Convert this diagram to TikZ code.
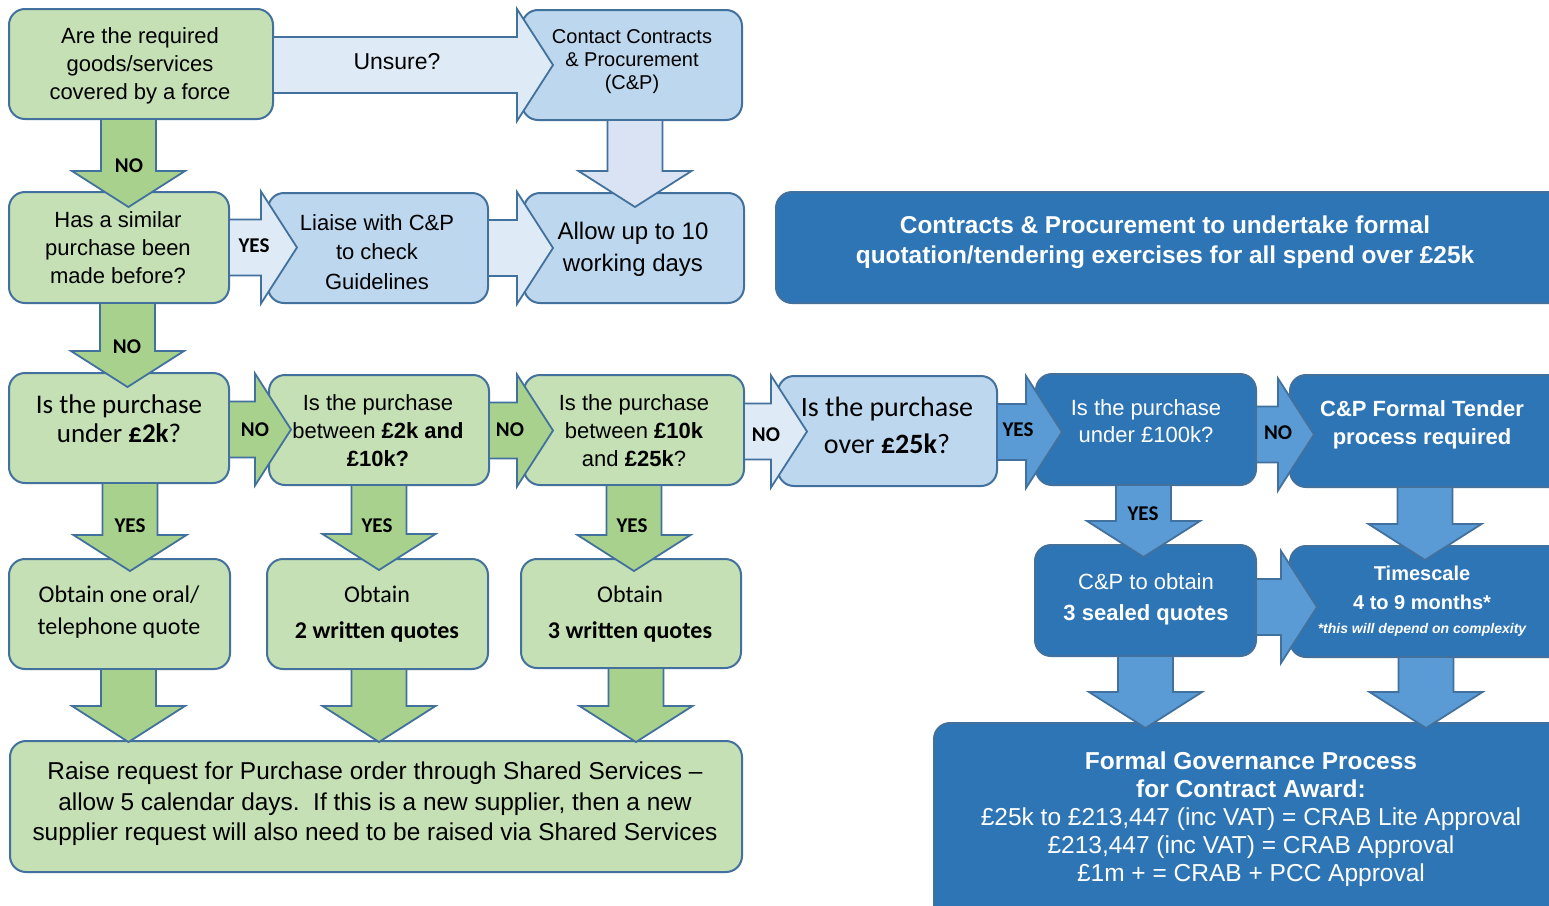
\documentclass[tikz,border=0pt]{standalone}
\usepackage{fontspec}
\setmainfont{Liberation Sans}
\newfontfamily\calfont{Carlito}
\usetikzlibrary{calc}

\definecolor{gfill}{HTML}{C5E0B4}
\definecolor{garrow}{HTML}{A9D18E}
\definecolor{edge}{HTML}{41719C}
\definecolor{lbfill}{HTML}{BDD7EE}
\definecolor{lbarrow}{HTML}{DEEBF7}
\definecolor{lbarrowb}{HTML}{DAE3F3}
\definecolor{dbfill}{HTML}{2E75B6}
\definecolor{mbarrow}{HTML}{5B9BD5}

\newcommand\fsz[2]{\fontsize{#1}{#2}\selectfont}

% arrow geometry (pt = px)
\def\bh{28pt}\def\hh{56pt}\def\hl{36pt}
\def\dbh{27.5pt}\def\dhh{56.5pt}\def\dhl{36pt}

% rounded box from corner (x1,y1) to (x2,y2)
\newcommand\bx[6][]{%
  \node[#1, minimum width={(#5-#3)*1pt}, minimum height={(#6-#4)*1pt}]
    (#2) at ({(#3+#5)/2},{(#4+#6)/2}) {};}

% block arrow pointing right: style, from, to, vertical shift, overlap into target
\newcommand\arrR[5]{%
  \draw[#1] let \p1=(#2.east), \p2=(#3.west),
      \n1={\y1-(#4pt)}, \n2={\x2+(#5pt)}, \n3={\x2+(#5pt)-\hl} in
    (\x1,{\n1+\bh}) -- (\n3,{\n1+\bh})
    -- (\n3,{\n1+\hh}) -- (\n2,\n1)
    -- (\n3,{\n1-\hh}) -- (\n3,{\n1-\bh})
    -- (\x1,{\n1-\bh}) -- cycle;}

% block arrow pointing down: style, from, to, horizontal shift, overlap into target
\newcommand\arrD[5]{%
  \draw[#1] let \p1=(#2.south), \p2=(#3.north),
      \n1={\x1+(#4pt)}, \n2={\y2-(#5pt)}, \n3={\y2-(#5pt)+\dhl} in
    ({\n1-\dbh},\y1) -- ({\n1-\dbh},\n3)
    -- ({\n1-\dhh},\n3) -- (\n1,\n2)
    -- ({\n1+\dhh},\n3) -- ({\n1+\dbh},\n3)
    -- ({\n1+\dbh},\y1) -- cycle;}

\tikzset{
  box/.style={draw=edge, line width=2pt, rounded corners=16pt, inner sep=0pt, outer sep=0pt},
  greenbox/.style={box, fill=gfill},
  lightbox/.style={box, fill=lbfill},
  darkbox/.style={box, fill=dbfill},
  arr/.style={draw=edge, line width=1.8pt, line join=miter},
  greenarrow/.style={arr, fill=garrow},
  lightarrow/.style={arr, fill=lbarrow},
  lightarrowb/.style={arr, fill=lbarrowb},
  darkarrow/.style={arr, fill=mbarrow},
  txt/.style={align=center, inner sep=0pt, text=black},
  wtxt/.style={txt, text=white},
  lbl/.style={font=\calfont\bfseries\fsz{21}{21}, inner sep=0pt, text=black}
}

\begin{document}
\begin{tikzpicture}[x=1pt,y=-1pt]
\clip (0,0) rectangle (1549,905);
\fill[white] (0,0) rectangle (1549,905);

% ---- boxes ----
\bx[greenbox]{A}{9}{9}{273}{119}
\bx[lightbox]{B}{522}{10}{742}{120}
\bx[greenbox]{C}{9}{192}{229}{303}
\bx[lightbox]{D}{268}{193}{488}{303}
\bx[lightbox]{E}{524}{193}{744}{303}
\bx[darkbox]{F}{776}{192}{1570}{303}
\bx[greenbox]{J}{9}{373}{229}{483}
\bx[greenbox]{K}{269}{375}{489}{485}
\bx[greenbox]{L}{524}{375}{744}{485}
\bx[lightbox]{G}{778}{376}{997}{486}
\bx[darkbox]{H}{1036}{374}{1256}{485}
\bx[darkbox]{I}{1290}{375}{1570}{487}
\bx[greenbox]{M}{9}{559}{230}{669}
\bx[greenbox]{N}{267}{559}{488}{669}
\bx[greenbox]{O}{521}{559}{741}{668}
\bx[greenbox]{P}{10}{741}{742}{872}
\bx[darkbox]{Q}{1035}{545}{1256}{656}
\bx[darkbox]{R}{1290}{546}{1570}{657}
\bx[darkbox]{S}{934}{723}{1570}{940}

% ---- arrows ----
\arrR{lightarrow}{A}{B}{1}{31}
\arrR{lightarrow}{C}{D}{0}{29}
\arrR{lightarrow}{D}{E}{0}{29}
\arrR{greenarrow}{J}{K}{1.5}{22}
\arrR{greenarrow}{K}{L}{0.5}{29}
\arrR{lightarrow}{L}{G}{1.5}{29}
\arrR{darkarrow}{G}{H}{1}{26}
\arrR{darkarrow}{H}{I}{5}{24}
\arrR{darkarrow}{Q}{R}{6.5}{27}

\arrD{greenarrow}{A}{C}{-12.5}{15}
\arrD{lightarrowb}{B}{E}{3}{14}
\arrD{greenarrow}{C}{J}{8.5}{14}
\arrD{greenarrow}{J}{M}{11}{12}
\arrD{greenarrow}{K}{N}{0}{11}
\arrD{greenarrow}{L}{O}{0}{12}
\arrD{greenarrow}{M}{P}{9}{1}
\arrD{greenarrow}{N}{P}{1.5}{1}
\arrD{greenarrow}{O}{P}{5}{1}
\arrD{darkarrow}{H}{Q}{-2.5}{12}
\arrD{darkarrow}{I}{R}{-5}{14}
\arrD{darkarrow}{Q}{S}{0}{5}
\arrD{darkarrow}{R}{S}{-4}{5}

% ---- box texts ----
\node[txt, font=\fsz{22}{28}] (tA) at (140,66) {Are the required\\goods/services\\covered by a force};
\node[txt, font=\fsz{20}{23}] (tB) at (632,62) {Contact Contracts\\\& Procurement\\(C\&P)};
\node[txt, font=\fsz{23}{23}] (tU) at (397,62) {Unsure?};
\node[txt, font=\fsz{22}{28}] (tC) at (118,248) {Has a similar\\purchase been\\made before?};
\node[txt, font=\fsz{22}{29.5}] (tD) at (377,252) {Liaise with C\&P\\to check\\Guidelines};
\node[txt, font=\fsz{24}{32}] (tE) at (633,249) {Allow up to 10\\working days};
\node[wtxt, font=\bfseries\fsz{24.4}{30}] (tF) at (1165,242) {Contracts \& Procurement to undertake formal\\quotation/tendering exercises for all spend over £25k};
\node[txt, font=\calfont\fsz{28}{37}] (tG) at (887,425) {Is the purchase\\over \textbf{£25k}?};
\node[wtxt, font=\fsz{22}{27}] (tH) at (1146,421) {Is the purchase\\under £100k?};
\node[wtxt, font=\bfseries\fsz{22}{28}] (tI) at (1422,425) {C\&P Formal Tender\\process required};
\node[txt, font=\calfont\fsz{27}{29}] (tJ) at (119,419) {Is the purchase\\under \textbf{£2k}?};
\node[txt, font=\fsz{22}{28}] (tK) at (378,431) {Is the purchase\\between \textbf{£2k and}\\\textbf{£10k?}};
\node[txt, font=\fsz{22}{28}] (tL) at (634,431) {Is the purchase\\between \textbf{£10k}\\and \textbf{£25k}?};
\node[txt, font=\calfont\fsz{24}{32}] (tM) at (119,612) {Obtain one oral/\\telephone quote};
\node[txt, font=\calfont\fsz{24}{36}] (tN) at (377,614) {Obtain\\\textbf{2 written quotes}};
\node[txt, font=\calfont\fsz{24}{36}] (tO) at (630,614) {Obtain\\\textbf{3 written quotes}};
\node[txt, font=\fsz{24.4}{30.5}] (tP) at (375,804) {Raise request for Purchase order through Shared Services –\\allow 5 calendar days.\ \ If this is a new supplier, then a new\\supplier request will also need to be raised via Shared Services};
\node[wtxt, font=\fsz{22}{31}] (tQ) at (1146,599.5) {C\&P to obtain\\\textbf{3 sealed quotes}};
\node[wtxt, font=\bfseries\fsz{20}{29}] (tR) at (1422,588) {Timescale\\4 to 9 months*};
\node[wtxt, font=\bfseries\itshape\fsz{14}{14}] (tR2) at (1422,630) {*this will depend on complexity};
\node[wtxt, font=\fsz{24.5}{28}] (tS) at (1251,819) {\textbf{Formal Governance Process}\\\textbf{for Contract Award:}\\£25k to £213,447 (inc VAT) = CRAB Lite Approval\\£213,447 (inc VAT) = CRAB Approval\\£1m + = CRAB + PCC Approval};

% ---- arrow labels ----
\node[lbl] (n1) at (129,166) {NO};
\node[lbl] (y1) at (254,246) {YES};
\node[lbl] (n2) at (127,347) {NO};
\node[lbl] (n3) at (255,430) {NO};
\node[lbl] (n4) at (510,430) {NO};
\node[lbl] (n5) at (766,435) {NO};
\node[lbl] (y2) at (1018,430) {YES};
\node[lbl] (n6) at (1278,433) {NO};
\node[lbl] (y3) at (130,526) {YES};
\node[lbl] (y4) at (377,526) {YES};
\node[lbl] (y5) at (632,526) {YES};
\node[lbl] (y6) at (1143,514) {YES};
\end{tikzpicture}
\end{document}
